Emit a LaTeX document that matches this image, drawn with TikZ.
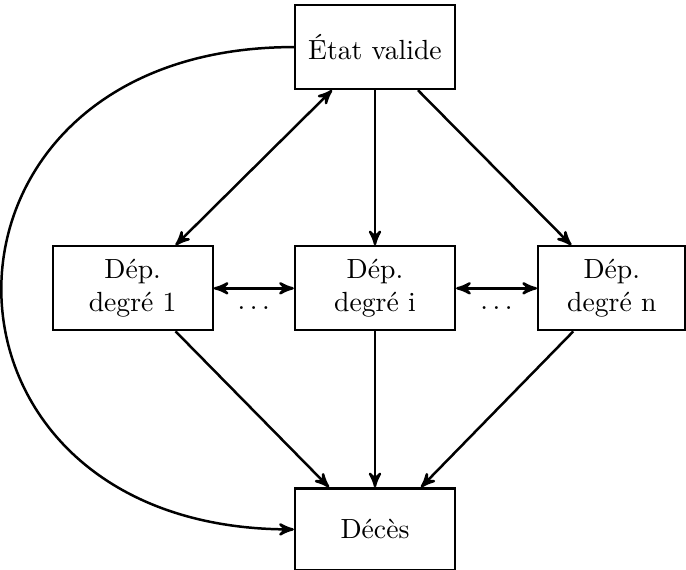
\documentclass[tikz,border=0pt]{standalone}
\usepackage{tikz}
\usetikzlibrary{arrows}
\usetikzlibrary{positioning,calc}
\begin{document}
\begin{tikzpicture}[node distance=56pt]
	\useasboundingbox (-135.4pt,17pt) rectangle (112.3pt,-188.5pt);
	%defines
	\tikzstyle{etatBox} = [rectangle, minimum width=57.8pt, minimum height=30.3pt, text centered, draw=black, thick]
	\tikzstyle{depBox} = [rectangle, minimum width=57.8pt, minimum height=30.3pt, align=center, draw=black, thick]
	\tikzstyle{decesBox} = [rectangle, minimum width=57.8pt, minimum height=29.6pt, text centered, draw=black, thick]
	\tikzstyle{arrow} = [line width=0.9pt,->,>=stealth']
	\tikzstyle{darrow} = [line width=0.9pt,<->,>=stealth']
	%chart
	\node (etatValide) [etatBox] {État valide};
	\node (depDegreI) [depBox, below=of etatValide] {Dép.\\degré i};
	\node (depDegre1) [depBox, left=28.9pt of depDegreI] {Dép.\\degré 1};
	\node (depDegreN) [depBox, minimum width=53.2pt, right=29.2pt of depDegreI] {Dép.\\degré n};
	\node (deces) [decesBox, below=56.3pt of depDegreI] {Décès};
	\node (dotsA) at ($(depDegre1.east)!0.5!(depDegreI.west)+(0,-7.2pt)$) {$\ldots$};
	\node (dotsB) at ($(depDegreI.east)!0.5!(depDegreN.west)+(0,-7.2pt)$) {$\ldots$};
	%arrows
	\draw [darrow] ([xshift=-15.5pt]etatValide.south) -- ([xshift=15.5pt]depDegre1.north);
	\draw [arrow] (etatValide) -- (depDegreI);
	\draw [arrow] ([xshift=15.5pt]etatValide.south) -- ([xshift=-14.6pt]depDegreN.north);
	\draw [darrow] (depDegre1) -- (depDegreI);
	\draw [darrow] (depDegreI) -- (depDegreN);
	\draw [arrow] ([xshift=15.5pt]depDegre1.south) -- ([xshift=-16.6pt]deces.north);
	\draw [arrow] (depDegreI) -- (deces);
	\draw [arrow] ([xshift=-13.9pt]depDegreN.south) -- ([xshift=16.6pt]deces.north);
	\draw [arrow] (etatValide.west) to [out=180, in=180, looseness=2.07] (deces.west);
\end{tikzpicture}
\end{document}
